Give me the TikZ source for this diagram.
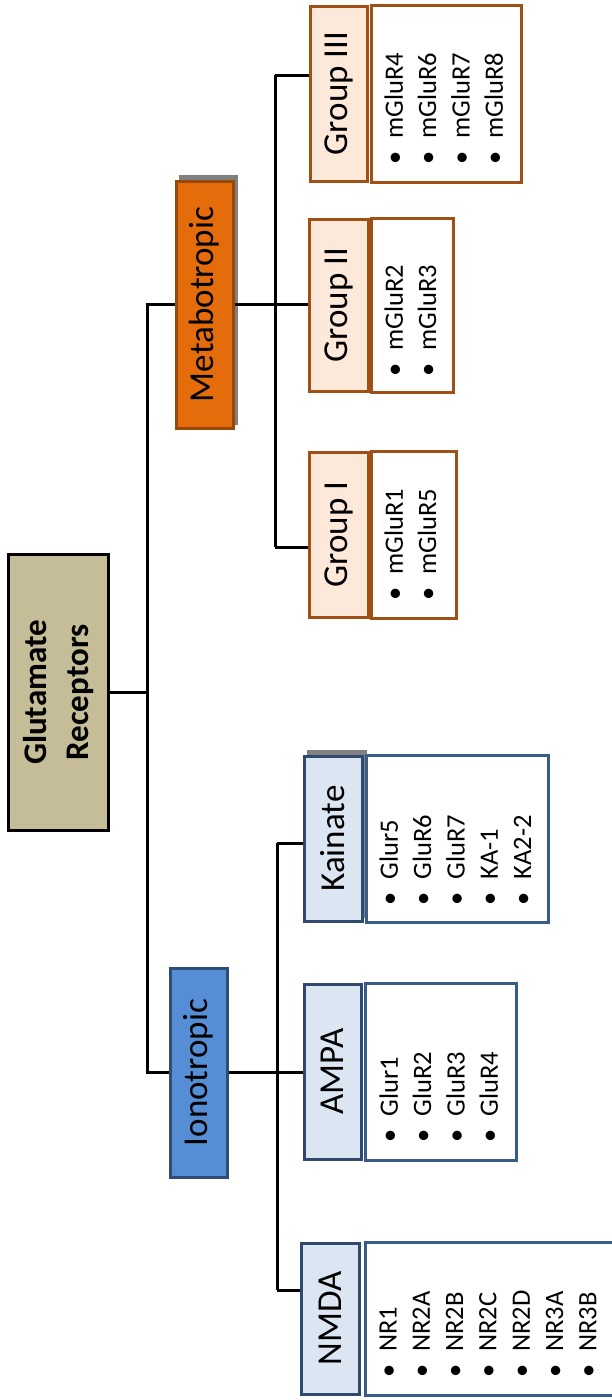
\documentclass[tikz,border=0pt]{standalone}
\usepackage{fontspec}
\setmainfont{Carlito}
\usepackage{tikz}
\definecolor{rootfill}{RGB}{196, 189, 151}
\definecolor{metfill}{RGB}{228, 108, 10}
\definecolor{metline}{RGB}{152, 72, 7}
\definecolor{grpfill}{RGB}{253, 233, 217}
\definecolor{grpline}{RGB}{160, 80, 20}
\definecolor{ionfill}{RGB}{85, 142, 213}
\definecolor{ionline}{RGB}{44, 77, 117}
\definecolor{subfill}{RGB}{220, 230, 242}
\definecolor{subline}{RGB}{47, 74, 110}
\definecolor{listline}{RGB}{56, 93, 138}
\definecolor{gray50}{gray}{0.5}
\newcommand{\itm}[1]{\makebox[26pt][l]{\textbullet}#1}

\begin{document}
\begin{tikzpicture}[x=1pt, y=-1pt, line width=3pt,
  box/.style={draw, rotate=90, inner sep=0pt, font=\fontsize{35}{42}\selectfont},
  rootbox/.style={box, fill=rootfill, draw=black, line width=3.5pt, align=center,
    font=\bfseries\fontsize{33}{42}\selectfont},
  metbox/.style={box, fill=metfill, draw=metline},
  grpbox/.style={box, fill=grpfill, draw=grpline},
  ionbox/.style={box, fill=ionfill, draw=ionline},
  subbox/.style={box, fill=subfill, draw=subline},
  items/.style={rotate=90, inner sep=0pt, anchor=north west, align=left,
    font=\fontsize{26.5}{33.3}\selectfont}]
  \useasboundingbox (0, 0) rectangle (612, 1400);

  % Root
  \node [rootbox, minimum width=276, minimum height=100] (root) at (58.5, 692.5)
    {Glutamate\\Receptors};

  % Metabotropic side
  \fill [color=gray50] (179, 175) rectangle (238, 425);
  \node [metbox, minimum width=247, minimum height=57] (met) at (204.5, 304.5) {Metabotropic};

  \node [grpbox, minimum width=175, minimum height=57] (grp3) at (338.5, 93.5) {Group III};
  \node [grpbox, minimum width=172, minimum height=59] (grp2) at (338.5, 305) {Group II};
  \node [grpbox, minimum width=165, minimum height=59] (grp1) at (338.5, 534.5) {Group I};

  \draw [draw=grpline] (371, 5) rectangle (521, 182);
  \draw [draw=grpline] (371, 218) rectangle (453, 392);
  \draw [draw=grpline] (371, 451) rectangle (456, 618);
  \node [items] (list3) at (383, 166) {\itm{mGluR4}\\\itm{mGluR6}\\\itm{mGluR7}\\\itm{mGluR8}};
  \node [items] (list2) at (383, 378) {\itm{mGluR2}\\\itm{mGluR3}};
  \node [items] (list1) at (383, 602) {\itm{mGluR1}\\\itm{mGluR5}};

  % Ionotropic side
  \node [ionbox, minimum width=209, minimum height=57] (ion) at (198.5, 1072.5) {Ionotropic};

  \fill [color=gray50] (307, 750) rectangle (367, 918);
  \node [subbox, minimum width=165, minimum height=58] (kain) at (333, 838.5) {Kainate};
  \node [subbox, minimum width=175, minimum height=57] (ampa) at (332.5, 1071.5) {AMPA};
  \node [subbox, minimum width=151, minimum height=58] (nmda) at (330, 1318.5) {NMDA};

  \draw [draw=listline] (366, 755) rectangle (548, 922);
  \draw [draw=listline] (365, 983) rectangle (516, 1160);
  \draw [draw=listline] (365, 1242) rectangle (625, 1395);
  \node [items] (listk) at (378, 907) {\itm{Glur5}\\\itm{GluR6}\\\itm{GluR7}\\\itm{KA-1}\\\itm{KA2-2}};
  \node [items] (lista) at (378, 1144) {\itm{Glur1}\\\itm{GluR2}\\\itm{GluR3}\\\itm{GluR4}};
  \node [items] (listn) at (378, 1379) {\itm{NR1}\\\itm{NR2A}\\\itm{NR2B}\\\itm{NR2C}\\\itm{NR2D}\\\itm{NR3A}\\\itm{NR3B}};

  % Connectors
  \coordinate (spine) at (147, 0);
  \coordinate (mtop) at (275, 75);
  \coordinate (mbot) at (275, 547);
  \coordinate (itop) at (277, 843);
  \coordinate (ibot) at (277, 1290);

  \draw (root.south) -- (root.south -| spine);
  \draw (met.north) -- (met.north -| spine) -- (ion.north -| spine) -- (ion.north);

  \draw (mtop) -- (mbot);
  \draw (met.south) -- (met.south -| grp2.north);
  \draw (mtop) -- (mtop -| grp3.north);
  \draw (mbot) -- (mbot -| grp1.north);

  \draw (itop) -- (ibot);
  \draw (ion.south) -- (ion.south -| ampa.north);
  \draw (itop) -- (itop -| kain.north);
  \draw (ibot) -- (ibot -| nmda.north);
\end{tikzpicture}
\end{document}
